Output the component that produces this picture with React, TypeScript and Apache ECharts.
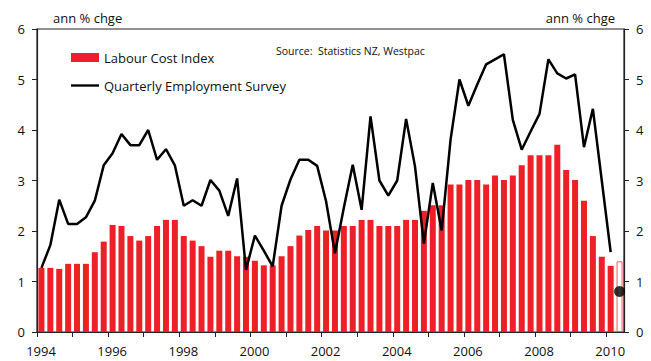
import { useEffect, useRef } from "react";
import * as echarts from "echarts";

// Quarterly categories, 1994 Q1 to 2010 Q2
const quarters: string[] = [];
for (let y = 1994; y <= 2010; y++) {
  for (let q = 1; q <= 4; q++) quarters.push(`${y}Q${q}`);
}
const categories = quarters.slice(0, 66);

// Labour Cost Index, ann % chge (last value is a forecast, drawn hollow)
const lciValues = [
  1.27, 1.27, 1.25, 1.35, 1.35, 1.35, 1.58, 1.79,
  2.12, 2.1, 1.9, 1.81, 1.9, 2.1, 2.22, 2.22,
  1.9, 1.81, 1.7, 1.49, 1.61, 1.61, 1.5, 1.49,
  1.41, 1.32, 1.32, 1.5, 1.7, 1.91, 2.02, 2.1,
  2.01, 2.01, 2.1, 2.1, 2.22, 2.22, 2.1, 2.1,
  2.1, 2.22, 2.22, 2.4, 2.51, 2.51, 2.92, 2.92,
  3.01, 3.01, 2.92, 3.1, 3.01, 3.1, 3.3, 3.5,
  3.5, 3.5, 3.71, 3.21, 3.01, 2.6, 1.9, 1.49,
  1.31, 1.4,
];
const lciForecastFrom = "2010Q2";

// Quarterly Employment Survey, ann % chge
const qesValues: (number | null)[] = [
  1.27, 1.72, 2.62, 2.14, 2.14, 2.27, 2.6, 3.3,
  3.54, 3.92, 3.7, 3.7, 4.0, 3.41, 3.62, 3.3,
  2.5, 2.61, 2.5, 3.01, 2.8, 2.3, 3.04, 1.23,
  1.91, 1.61, 1.3, 2.5, 3.02, 3.41, 3.41, 3.29,
  2.59, 1.56, 2.46, 3.31, 2.42, 4.27, 3.0, 2.7,
  3.0, 4.22, 3.28, 1.75, 2.95, 2.01, 3.81, 5.0,
  4.48, 4.9, 5.3, 5.4, 5.5, 4.2, 3.61, 3.97,
  4.32, 5.4, 5.12, 5.02, 5.1, 3.66, 4.42, 3.0,
  1.58, null,
];
// Forecast point for QES
const qesForecast = [{ quarter: "2010Q2", value: 0.8 }];

const yTicks = [0, 1, 2, 3, 4, 5, 6];
const yearTickLabels = ["1994", "1996", "1998", "2000", "2002", "2004", "2006", "2008", "2010"];

const FONT = "'Open Sans', 'Noto Sans', sans-serif";
const RED = "#ed1f27";

export default function App() {
  const ref = useRef<HTMLDivElement>(null);
  useEffect(() => {
    if (!ref.current) return;
    const chart = echarts.init(ref.current, null, { renderer: "svg" });
    const barData = categories.map((c, i) =>
      c === lciForecastFrom
        ? { value: lciValues[i], itemStyle: { color: "#ffffff", borderColor: "#ef5a5f", borderWidth: 1 } }
        : lciValues[i]
    );
    chart.setOption({
      animation: false,
      textStyle: { fontFamily: FONT },
      grid: {
        left: 37,
        right: 27,
        top: 29,
        bottom: 29,
        show: true,
        borderColor: "#222",
        borderWidth: 1.2,
        containLabel: false,
      },
      legend: {
        data: [
          { name: "Labour Cost Index", icon: "rect" },
          { name: "Quarterly Employment Survey", icon: "path://M0,0L40,0L40,3.4L0,3.4Z" },
        ],
        orient: "vertical",
        left: 71,
        top: 51,
        padding: 0,
        itemWidth: 28,
        itemHeight: 9,
        itemGap: 15,
        selectedMode: false,
        textStyle: { fontSize: 13, color: "#111", fontFamily: FONT },
      },
      graphic: [
        {
          type: "text",
          left: 53,
          top: 11,
          style: { text: "ann % chge", fontSize: 13, fill: "#111", fontFamily: FONT },
        },
        {
          type: "text",
          right: 36,
          top: 11,
          style: { text: "ann % chge", fontSize: 13, fill: "#111", fontFamily: FONT },
        },
        {
          type: "text",
          left: 276,
          top: 45,
          style: { text: "Source:  Statistics NZ, Westpac", fontSize: 10.5, fill: "#111", fontFamily: FONT },
        },
      ],
      xAxis: [
        {
          type: "category",
          data: categories,
          position: "top",
          show: false,
          boundaryGap: true,
        },
        {
          type: "value",
          position: "bottom",
          min: 1994,
          max: 2010.5,
          interval: 1,
          axisLine: { show: true, lineStyle: { color: "#222", width: 1.2 } },
          axisTick: { show: true, length: 5, lineStyle: { color: "#222", width: 1 } },
          splitLine: { show: false },
          axisLabel: {
            fontSize: 13,
            color: "#111",
            fontFamily: FONT,
            margin: 12,
            padding: [0, 0, 0, 8],
            showMaxLabel: false,
            formatter: (v: number) => (yearTickLabels.includes(String(v)) ? String(v) : ""),
          },
        },
      ],
      yAxis: [
        {
          type: "value",
          position: "left",
          min: 0,
          max: 6,
          interval: 1,
          axisLine: { show: true, lineStyle: { color: "#222", width: 1.2 } },
          axisTick: { show: true, length: 5, lineStyle: { color: "#222" } },
          splitLine: { show: false },
          axisLabel: {
            fontSize: 13,
            color: "#111",
            fontFamily: FONT,
            margin: 12,
            formatter: (v: number) => (yTicks.includes(v) ? String(v) : ""),
          },
        },
        {
          type: "value",
          position: "right",
          min: 0,
          max: 6,
          interval: 1,
          axisLine: { show: true, lineStyle: { color: "#222", width: 1.2 } },
          axisTick: { show: true, length: 5, lineStyle: { color: "#222" } },
          splitLine: { show: false },
          axisLabel: {
            fontSize: 13,
            color: "#111",
            fontFamily: FONT,
            margin: 12,
            formatter: (v: number) => (yTicks.includes(v) ? String(v) : ""),
          },
        },
      ],
      series: [
        {
          name: "Labour Cost Index",
          type: "bar",
          xAxisIndex: 0,
          yAxisIndex: 0,
          data: barData,
          barWidth: 6,
          itemStyle: { color: RED },
        },
        {
          name: "Quarterly Employment Survey",
          type: "line",
          xAxisIndex: 0,
          yAxisIndex: 0,
          data: qesValues,
          symbol: "none",
          showSymbol: false,
          connectNulls: false,
          lineStyle: { color: "#000", width: 2.5 },
          itemStyle: { color: "#000" },
          z: 3,
        },
        {
          name: "QES forecast",
          type: "scatter",
          xAxisIndex: 0,
          yAxisIndex: 0,
          data: qesForecast.map((d) => [d.quarter, d.value]),
          symbol: "circle",
          symbolSize: 11,
          itemStyle: { color: "#000" },
          z: 4,
        },
      ],
    });
    return () => chart.dispose();
  }, []);
  return (
    <div
      ref={ref}
      style={{ position: "absolute", left: 0, top: 0, width: 651, height: 361, background: "#fff" }}
    />
  );
}
